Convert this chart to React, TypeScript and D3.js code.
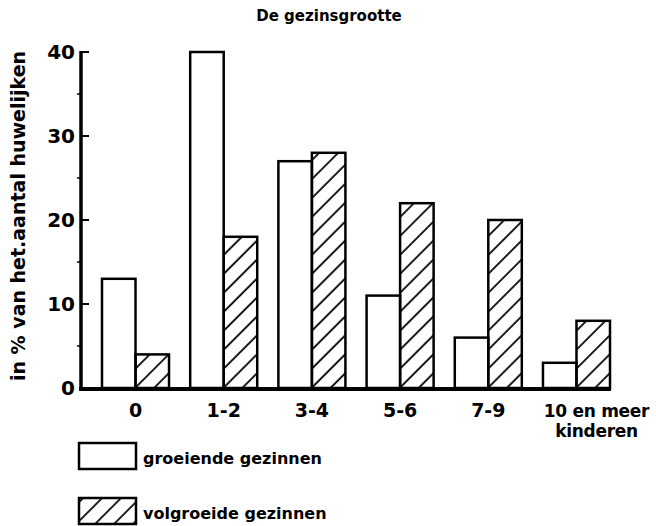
import React, { useEffect, useRef } from 'react';
import * as d3 from 'd3';

// gezinsgrootte klassen (aantal kinderen)
const categories = ['0', '1-2', '3-4', '5-6', '7-9', '10 en meer'];
const groeiend = [13, 40, 27, 11, 6, 3];
const volgroeid = [4, 18, 28, 22, 20, 8];
const yTicks = [0, 10, 20, 30, 40];
const yMinorTicks = [5, 15, 25, 35];
const seriesNames = ['groeiende gezinnen', 'volgroeide gezinnen'];

const W = 656;
const H = 526;
const FONT = '"DejaVu Sans", sans-serif';

const App: React.FC = () => {
  const svgRef = useRef<SVGSVGElement>(null);

  useEffect(() => {
    const svg = d3.select(svgRef.current);
    svg.selectAll('*').remove();

    const axisX = 81;
    const x = d3.scaleBand().domain(categories).range([102, 610]).paddingInner(0.24).paddingOuter(0);
    const sub = d3.scaleBand().domain(['g', 'v']).range([0, x.bandwidth()]);
    const y = d3.scaleLinear().domain([0, 40]).range([388, 52]);

    // arcering
    const defs = svg.append('defs');
    defs.append('pattern')
      .attr('id', 'hatch')
      .attr('patternUnits', 'userSpaceOnUse')
      .attr('width', 13.4)
      .attr('height', 13.4)
      .attr('patternTransform', 'rotate(45)')
      .append('line')
      .attr('x1', 3).attr('x2', 3)
      .attr('y1', 0).attr('y2', 13.4)
      .attr('stroke', '#000')
      .attr('stroke-width', 1.8);

    // titel
    svg.append('text')
      .attr('x', 329).attr('y', 21)
      .attr('text-anchor', 'middle')
      .style('font-family', FONT).style('font-weight', 'bold').style('font-size', '15px')
      .text('De gezinsgrootte');

    // as-label
    svg.append('text')
      .attr('transform', `translate(25,${(50 + 382) / 2}) rotate(-90)`)
      .attr('text-anchor', 'middle')
      .style('font-family', FONT).style('font-weight', 'bold').style('font-size', '19px')
      .text('in % van het.aantal huwelijken');

    // balken
    const groups = svg.selectAll('.grp')
      .data(categories)
      .enter()
      .append('g')
      .attr('transform', d => `translate(${x(d)},0)`);

    groups.append('rect')
      .attr('x', sub('g')!)
      .attr('y', (d, i) => y(groeiend[i]))
      .attr('width', sub.bandwidth())
      .attr('height', (d, i) => y(0) - y(groeiend[i]))
      .attr('fill', '#fff')
      .attr('stroke', '#000')
      .attr('stroke-width', 2.5);

    groups.append('rect')
      .attr('x', sub('v')!)
      .attr('y', (d, i) => y(volgroeid[i]))
      .attr('width', sub.bandwidth())
      .attr('height', (d, i) => y(0) - y(volgroeid[i]))
      .attr('fill', 'url(#hatch)')
      .attr('stroke', '#000')
      .attr('stroke-width', 2.5);

    // y-as
    const yAxis = svg.append('g');
    yAxis.append('line')
      .attr('x1', axisX).attr('x2', axisX)
      .attr('y1', y(40) - 1).attr('y2', y(0) + 2)
      .attr('stroke', '#000').attr('stroke-width', 3.5);
    yAxis.selectAll('.major')
      .data(yTicks)
      .enter()
      .append('line')
      .attr('x1', axisX).attr('x2', axisX + 8)
      .attr('y1', d => y(d)).attr('y2', d => y(d))
      .attr('stroke', '#000').attr('stroke-width', 2);
    yAxis.selectAll('.minor')
      .data(yMinorTicks)
      .enter()
      .append('line')
      .attr('x1', axisX - 4).attr('x2', axisX)
      .attr('y1', d => y(d)).attr('y2', d => y(d))
      .attr('stroke', '#000').attr('stroke-width', 1.5);
    yAxis.selectAll('.lbl')
      .data(yTicks)
      .enter()
      .append('text')
      .attr('x', axisX - 6)
      .attr('y', d => y(d) + 7)
      .attr('text-anchor', 'end')
      .style('font-family', FONT).style('font-weight', 'bold').style('font-size', '20px')
      .text(d => d);

    // x-as
    svg.append('line')
      .attr('x1', axisX - 2).attr('x2', 611)
      .attr('y1', y(0) + 1).attr('y2', y(0) + 1)
      .attr('stroke', '#000').attr('stroke-width', 4);

    const lastCat = categories[categories.length - 1];
    const lastX = x(lastCat)! + x.bandwidth() / 2 + 20;

    svg.selectAll('.xl')
      .data(categories.slice(0, -1))
      .enter()
      .append('text')
      .attr('text-anchor', 'middle')
      .attr('x', d => x(d)! + x.bandwidth() / 2)
      .attr('y', 417)
      .style('font-family', FONT).style('font-weight', 'bold').style('font-size', '19px')
      .text(d => d);

    const last = svg.append('text')
      .attr('text-anchor', 'middle')
      .attr('x', lastX)
      .attr('y', 417)
      .style('font-family', FONT).style('font-weight', 'bold').style('font-size', '17px')
      .style('letter-spacing', '-0.3px');
    last.append('tspan').text(lastCat);
    last.append('tspan')
      .attr('x', lastX)
      .attr('dy', 20)
      .text('kinderen');

    // legenda
    const legend = svg.selectAll('.legend')
      .data(seriesNames)
      .enter()
      .append('g')
      .attr('transform', (d, i) => `translate(79,${443 + i * 55})`);
    legend.append('rect')
      .attr('width', 57).attr('height', 26)
      .attr('fill', (d, i) => (i === 0 ? '#fff' : 'url(#hatch)'))
      .attr('stroke', '#000').attr('stroke-width', 2.5);
    legend.append('text')
      .attr('x', 64).attr('y', 21)
      .style('font-family', FONT).style('font-weight', 'bold').style('font-size', '16px')
      .text(d => d);
  }, []);

  return <svg ref={svgRef} width={W} height={H} style={{ position: 'absolute', left: 0, top: 0, background: '#fff' }} />;
};

export default App;
